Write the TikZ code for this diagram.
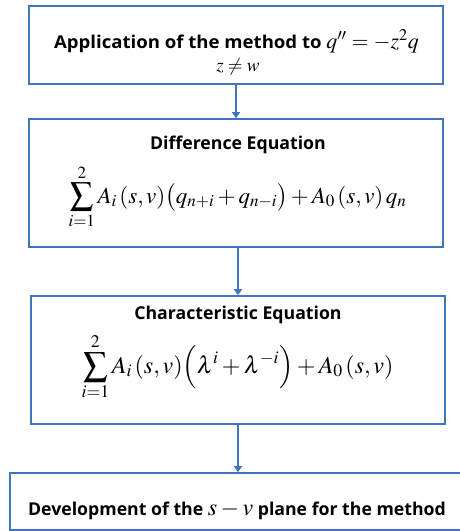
\documentclass[tikz,border=0pt]{standalone}
\usepackage{amsmath}
\usepackage{mathptmx}
\usepackage[no-math]{fontspec}
\setmainfont{Open Sans}
\newfontfamily\widesans[FakeStretch=1.05]{Open Sans}
\usetikzlibrary{positioning,arrows.meta}
\definecolor{boxblue}{RGB}{64,117,189}
\newcommand{\eqsize}{\fontsize{24}{29}\selectfont}
\tikzset{
  stepbox/.style={draw=boxblue, line width=1.6pt, fill=white, inner sep=0pt},
  flow/.style={draw=boxblue, line width=1.6pt, -{Triangle[length=6pt,width=8pt]}},
  steptitle/.style={font=\fontsize{17.7}{21}\selectfont\bfseries, anchor=base, inner sep=0pt},
  stepeq/.style={font=\eqsize, anchor=base, inner sep=0pt},
}
\begin{document}
\begin{tikzpicture}[x=1pt, y=-1pt]
  \useasboundingbox (0,0) rectangle (459,531);
  % Boxes
  \node[stepbox, minimum width=414, minimum height=78] (app) at (236,45) {};
  \node[stepbox, minimum width=414, minimum height=128] (diff) at (236,183) {};
  \node[stepbox, minimum width=414, minimum height=128] (chareq) at (238,360) {};
  \node[stepbox, minimum width=465, minimum height=57] (plane) at (242.5,501.5) {};
  % Texts
  \node[steptitle] (appT) at (236.5,48) {{\widesans Application of the method to} {\fontsize{22}{26}\selectfont$q''=-z^2q$}};
  \node[stepeq, font=\fontsize{19}{23}\selectfont] (appZ) at (238,71) {$z\neq w$};
  \node[steptitle] (diffT) at (238,149) {Difference Equation};
  \node[stepeq, font=\fontsize{23}{28}\selectfont] (diffE) at (237.5,203) {$\displaystyle\sum_{i=1}^{2}A_i\,(s,v)\bigl(q_{n+i}+q_{n-i}\bigr)+A_0\,(s,v)\,q_n$};
  \node[steptitle] (charT) at (238,319) {Characteristic Equation};
  \node[stepeq] (charE) at (237.5,373) {$\displaystyle\sum_{i=1}^{2}A_i\,(s,v)\Bigl(\lambda^i+\lambda^{-i}\Bigr)+A_0\,(s,v)$};
  \node[steptitle] (planeT) at (237,515) {Development of the {\eqsize$s-v$} plane for the method};
  % Arrows
  \draw[flow] (app.south) -- (app.south |- diff.north);
  \draw[flow] (diff.south -| chareq.north) -- (chareq.north);
  \draw[flow] (chareq.south) -- (chareq.south |- plane.north);
\end{tikzpicture}
\end{document}
